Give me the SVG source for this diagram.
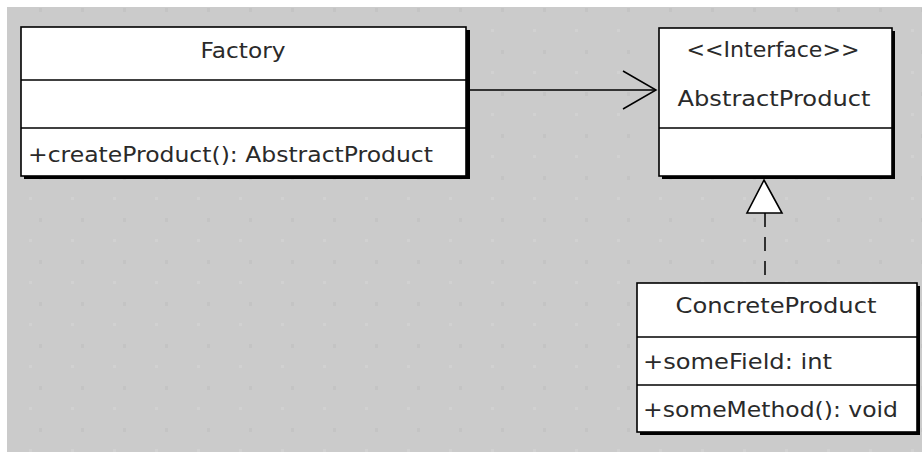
<svg xmlns="http://www.w3.org/2000/svg" width="922" height="452" viewBox="0 0 922 452">
  <style>
    .box { fill: #ffffff; stroke: #000000; stroke-width: 1.6; }
    .shadow { fill: #000000; }
    .div { stroke: #000000; stroke-width: 1.4; }
    .t { font-family: "DejaVu Sans", "Liberation Sans", sans-serif; font-size: 21px; fill: #2a2a2a; }
    .c { text-anchor: middle; }
    .edge { stroke: #000000; stroke-width: 1.5; fill: none; }
  </style>
  <defs>
    <pattern id="dots" patternUnits="userSpaceOnUse" x="0" y="0" width="42" height="42">
      <rect x="39" y="8" width="4" height="4" fill="#c4c4c4"/>
      <rect x="29" y="29" width="3" height="3" fill="#d1d1d1"/>
    </pattern>
  </defs>
  <rect x="0" y="0" width="922" height="452" fill="#ffffff"/>
  <rect x="7" y="7" width="915" height="445" fill="#cbcbcb"/>
  <rect x="7" y="7" width="915" height="445" fill="url(#dots)"/>

  <g id="connectors">
    <line class="edge" x1="467" y1="90" x2="656" y2="90"/>
    <polyline class="edge" points="623,71 656,90 623,109"/>
    <line class="edge" x1="765" y1="213" x2="765" y2="283" stroke-dasharray="14,10"/>
    <polygon points="764,180 747,213 782,213" fill="#ffffff" stroke="#000000" stroke-width="1.6"/>
  </g>

  <g id="factory">
    <rect class="shadow" x="24" y="30" width="446" height="149"/>
    <rect class="box" x="21" y="27" width="445" height="149"/>
    <line class="div" x1="21" y1="80" x2="466" y2="80"/>
    <line class="div" x1="21" y1="128" x2="466" y2="128"/>
    <text class="t c" x="243" y="58" textLength="85" lengthAdjust="spacingAndGlyphs">Factory</text>
    <text class="t" x="28" y="162" textLength="405" lengthAdjust="spacingAndGlyphs">+createProduct(): AbstractProduct</text>
  </g>

  <g id="abstractproduct">
    <rect class="shadow" x="662" y="31" width="233" height="148"/>
    <rect class="box" x="659" y="28" width="233" height="148"/>
    <line class="div" x1="659" y1="128" x2="892" y2="128"/>
    <text class="t c" x="773" y="57" textLength="173" lengthAdjust="spacingAndGlyphs">&lt;&lt;Interface&gt;&gt;</text>
    <text class="t c" x="774" y="106" textLength="193" lengthAdjust="spacingAndGlyphs">AbstractProduct</text>
  </g>

  <g id="concreteproduct">
    <rect class="shadow" x="640" y="286" width="280" height="149"/>
    <rect class="box" x="637" y="283" width="280" height="149"/>
    <line class="div" x1="637" y1="337" x2="917" y2="337"/>
    <line class="div" x1="637" y1="385" x2="917" y2="385"/>
    <text class="t c" x="776" y="313" textLength="201" lengthAdjust="spacingAndGlyphs">ConcreteProduct</text>
    <text class="t" x="643" y="369" textLength="189" lengthAdjust="spacingAndGlyphs">+someField: int</text>
    <text class="t" x="643" y="417" textLength="255" lengthAdjust="spacingAndGlyphs">+someMethod(): void</text>
  </g>
</svg>
